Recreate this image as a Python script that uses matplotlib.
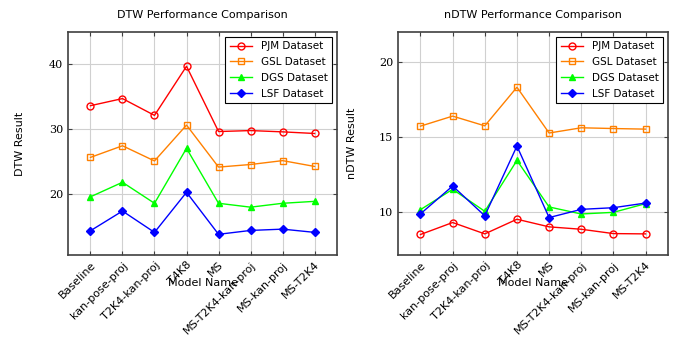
import numpy as np
import matplotlib.pyplot as plt

models = ['Baseline', 'kan-pose-proj', 'T2K4-kan-proj', 'T4K8', 'MS',
          'MS-T2K4-kan-proj', 'MS-kan-proj', 'MS-T2K4']
datasets = ['PJM Dataset', 'GSL Dataset', 'DGS Dataset', 'LSF Dataset']

dtw_pjm = [33.6, 34.7, 32.1, 39.7, 29.6, 29.75, 29.55, 29.3]
dtw_gsl = [25.6, 27.4, 25.05, 30.6, 24.1, 24.5, 25.1, 24.2]
dtw_dgs = [19.5, 21.75, 18.5, 27.0, 18.5, 17.9, 18.5, 18.8]
dtw_lsf = [14.25, 17.3, 14.0, 20.2, 13.7, 14.3, 14.5, 14.0]

ndtw_pjm = [8.47, 9.27, 8.51, 9.49, 8.98, 8.82, 8.53, 8.51]
ndtw_gsl = [15.71, 16.38, 15.73, 18.31, 15.25, 15.6, 15.55, 15.51]
ndtw_dgs = [10.13, 11.49, 10.02, 13.42, 10.31, 9.84, 9.95, 10.53]
ndtw_lsf = [9.85, 11.71, 9.72, 14.38, 9.6, 10.15, 10.26, 10.57]

colors = ['#ff0000', '#ff8000', '#00ff00', '#0000ff']
styles = [dict(marker='o', mfc='none'), dict(marker='s', mfc='none'),
          dict(marker='^'), dict(marker='D', ms=4)]

plt.rcParams['font.family'] = 'DejaVu Sans'
fig = plt.figure(figsize=(6.81, 3.39), dpi=100)
ax1 = fig.add_axes([0.0999, 0.2478, 0.395, 0.6578])
ax2 = fig.add_axes([0.5844, 0.2478, 0.3966, 0.6578])

def draw(ax, series, title, ylabel, ylim, yticks, ylab_x):
    x = np.arange(len(models))
    for vals, c, st, lab in zip(series, colors, styles, datasets):
        kw = dict(ms=5, mew=1.0)
        kw.update(st)
        ax.plot(x, vals, color=c, lw=1.0, label=lab, **kw)
    ax.set_xlim(-0.7, 7.7)
    ax.set_ylim(*ylim)
    ax.set_xticks(x)
    ax.set_xticklabels(models, rotation=45, ha='right', rotation_mode='anchor',
                       fontsize=8)
    ax.set_yticks(yticks)
    ax.set_yticklabels([str(t) for t in yticks], family='DejaVu Serif', fontsize=8)
    ax.grid(True, color='#d0d0d0', lw=0.8)
    ax.set_axisbelow(True)
    ax.tick_params(direction='in', top=True, right=True, length=3, color='#404040')
    for s in ax.spines.values():
        s.set_color('#404040')
        s.set_linewidth(1.2)
    ax.set_title(title, fontsize=8, pad=10)
    ax.set_ylabel(ylabel, fontsize=8)
    ax.yaxis.set_label_coords(ylab_x, 0.5)
    ax.set_xlabel('Model Name', fontsize=8)
    ax.xaxis.set_label_coords(0.5, -0.105)
    leg = ax.legend(loc='upper right', fontsize=7.5, fancybox=False,
                    edgecolor='black', framealpha=1, borderaxespad=0.5,
                    handlelength=2.2, labelspacing=0.55)
    leg.get_frame().set_linewidth(0.8)

draw(ax1, [dtw_pjm, dtw_gsl, dtw_dgs, dtw_lsf], 'DTW Performance Comparison',
     'DTW Result', (10.5, 45), [20, 30, 40], -0.16)
draw(ax2, [ndtw_pjm, ndtw_gsl, ndtw_dgs, ndtw_lsf], 'nDTW Performance Comparison',
     'nDTW Result', (7.1, 22), [10, 15, 20], -0.152)

fig.savefig('out.png', dpi=100)
